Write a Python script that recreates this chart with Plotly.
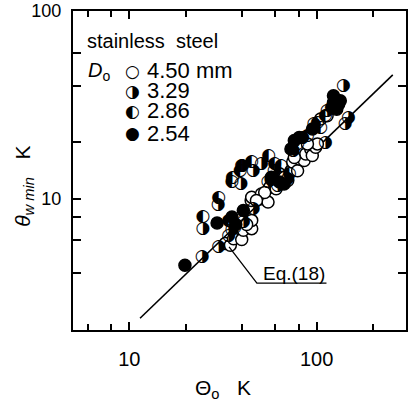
import plotly.graph_objects as go

# ---- data ----
# D_o = 4.50 mm (open circles)
x_450 = [32.5, 34.6, 36.0, 39.8, 40.6, 45.0, 45.0, 44.7, 45.0, 50.7, 50.7, 55.0, 56.1, 52.8,
         60.8, 66.0, 70.1, 72.9, 74.5, 79.1, 80.7, 85.8, 87.5, 93.0, 94.8, 98.8, 100.9, 105.0,
         113.7, 89.3, 76.0, 63.3, 67.3, 47.7, 42.3]
y_450 = [5.77, 5.65, 6.13, 6.06, 6.80, 6.93, 7.67, 9.8, 10.2, 10.0, 10.6, 9.6, 11.5, 10.8,
         11.3, 12.3, 12.5, 14.1, 15.7, 14.1, 16.3, 16.0, 17.3, 18.4, 17.0, 18.8, 19.6, 26.6,
         27.7, 19.6, 16.6, 13.6, 13.0, 9.8, 7.3]
# D_o = 3.29 mm (right half dark)
x_329 = [24.7, 24.5, 29.8, 30.0, 39.4, 39.8, 45.8, 50.7, 33.9, 45.8, 139.0, 142.0, 148.0,
         111.5, 59.3, 55.0, 70.1, 84.1, 96.8, 113.7, 40.6, 35.3, 62.0, 75.0]
y_329 = [6.93, 4.94, 9.33, 5.53, 12.0, 15.0, 14.1, 15.4, 6.39, 8.85, 40.0, 25.0, 27.1,
         19.8, 14.1, 12.3, 12.8, 21.2, 25.0, 29.4, 7.52, 6.80, 11.8, 18.0]
# D_o = 2.86 mm (left half dark)
x_286 = [24.7, 30.0, 35.3, 35.5, 39.0, 45.0, 55.5, 59.6, 64.7, 89.3, 100.9, 111.5, 33.9,
         71.5, 79.1, 40.0, 57.0, 105.0, 120.0, 36.5]
y_286 = [8.0, 10.1, 12.3, 13.0, 14.1, 15.7, 17.0, 15.4, 15.0, 21.7, 25.5, 27.7, 7.67,
         13.6, 19.6, 14.9, 12.6, 24.0, 30.5, 7.0]
# D_o = 2.54 mm (filled)
x_254 = [19.8, 29.4, 35.3, 40.6, 123.0, 125.9, 131.0, 133.7, 123.0, 76.0, 72.9, 80.7,
         63.3, 57.3, 37.0, 67.0, 95.0, 128.0]
y_254 = [4.43, 7.43, 8.0, 8.67, 35.4, 33.3, 31.9, 33.3, 32.6, 20.4, 18.4, 21.2,
         12.3, 13.0, 7.3, 12.0, 23.5, 30.0]
# Eq.(18) correlation line end points
x_eq = [11.4, 255.0]
y_eq = [2.31, 45.7]

legend_labels = ["4.50 mm", "3.29", "2.86", "2.54"]
legend_glyphs = ["\u25CB", "\u25D1", "\u25D0", "\u25CF"]

fig = go.Figure()

fig.add_trace(go.Scatter(x=x_eq, y=y_eq, mode="lines",
                         line=dict(color="black", width=1.6), showlegend=False,
                         name="Eq.(18)"))
fig.add_trace(go.Scatter(x=x_450, y=y_450, mode="markers", name="4.50 mm",
                         marker=dict(symbol="circle", size=12, color="white",
                                     line=dict(color="black", width=1.5)),
                         showlegend=False))
fig.add_trace(go.Scatter(x=x_329, y=y_329, mode="text", name="3.29",
                         text=["\u25D1"] * len(x_329), textposition="middle center",
                         textfont=dict(family="DejaVu Sans", size=17, color="black"),
                         showlegend=False))
fig.add_trace(go.Scatter(x=x_286, y=y_286, mode="text", name="2.86",
                         text=["\u25D0"] * len(x_286), textposition="middle center",
                         textfont=dict(family="DejaVu Sans", size=17, color="black"),
                         showlegend=False))
fig.add_trace(go.Scatter(x=x_254, y=y_254, mode="markers", name="2.54",
                         marker=dict(symbol="circle", size=12, color="black",
                                     line=dict(color="black", width=1.5)),
                         showlegend=False))

axis_common = dict(type="log", showgrid=False, zeroline=False, showline=True,
                   linecolor="black", linewidth=2, mirror="ticks", ticks="inside",
                   ticklen=8, tickwidth=1.5, tickcolor="black")

fig.update_xaxes(**axis_common, range=[0.69897, 2.47712],
                 tickvals=[10, 100], ticktext=["10", "100"],
                 tickfont=dict(family="Liberation Sans", size=20, color="black"),
                 ticklabelstandoff=10,
                 minor=dict(tickvals=[6, 8, 20, 40, 60, 80, 200], ticks="inside",
                            ticklen=6, tickwidth=1.5, tickcolor="black"))
fig.update_yaxes(**axis_common, range=[0.30103, 2.0],
                 tickvals=[10, 100], ticktext=["10", "100"],
                 tickfont=dict(family="Liberation Sans", size=18, color="black"),
                 ticklabelstandoff=6,
                 minor=dict(tickvals=[4, 6, 8, 20, 40, 60], ticks="inside",
                            ticklen=8, tickwidth=1.5, tickcolor="black"))

annotations = [
    dict(text="stainless  steel", x=0.035, y=0.905, xanchor="left", yanchor="middle",
         font=dict(size=20)),
    dict(text="<i>D</i><sub>o</sub>", x=0.04, y=0.81, xanchor="left", yanchor="middle",
         font=dict(size=20)),
    dict(text="Eq.(18)", x=0.665, y=0.176, xanchor="center", yanchor="middle",
         font=dict(size=19)),
    dict(text="\u0398<sub>o</sub>   K", x=0.45, y=-0.184, xanchor="center", yanchor="middle",
         font=dict(size=21)),
    dict(text="<i>\u03B8</i><sub><i>w min</i></sub>   K", x=-0.146, y=0.45,
         xanchor="center", yanchor="middle", textangle=-90, font=dict(size=21)),
]
row_y = [0.813, 0.750, 0.687, 0.617]
for g, lab, yy in zip(legend_glyphs, legend_labels, row_y):
    annotations.append(dict(text=g, x=0.178, y=yy, xanchor="center", yanchor="middle",
                            font=dict(family="DejaVu Sans", size=17)))
    annotations.append(dict(text=lab, x=0.217, y=yy, xanchor="left", yanchor="middle",
                            font=dict(size=22)))
for a in annotations:
    a.update(xref="paper", yref="paper", showarrow=False)
    a["font"].setdefault("family", "Liberation Sans")
    a["font"]["color"] = "black"

shapes = [dict(type="path", xref="paper", yref="paper",
               path="M 0.4687 0.2603 L 0.5522 0.1469 L 0.7612 0.1469",
               line=dict(color="black", width=1.3))]

fig.update_layout(width=409, height=408, margin=dict(l=73, r=1, t=10, b=78),
                  plot_bgcolor="white", paper_bgcolor="white",
                  annotations=annotations, shapes=shapes,
                  font=dict(family="Liberation Sans", color="black"))

fig.write_html("out.html")
